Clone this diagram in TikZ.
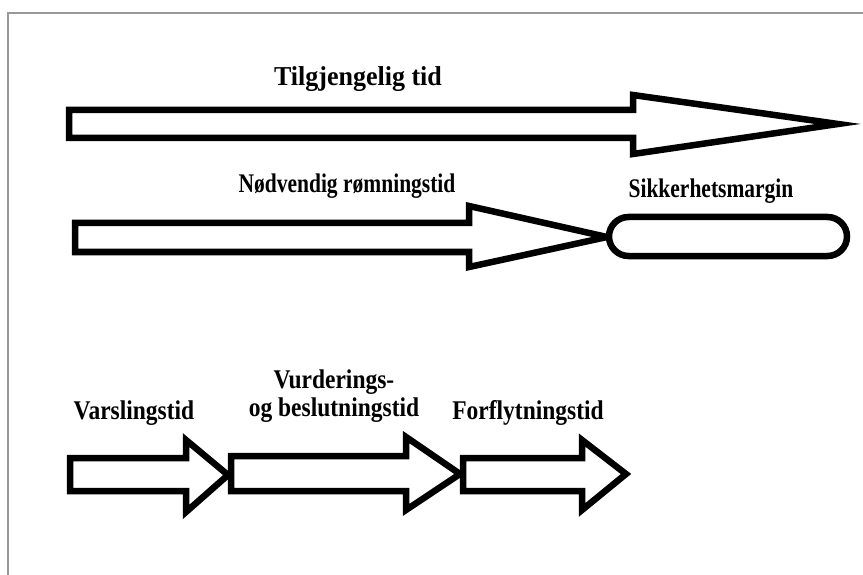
\documentclass[tikz,border=0pt]{standalone}
\usepackage{fontspec}
\setmainfont{Liberation Serif}
\begin{document}
\begin{tikzpicture}[x=1pt,y=-1pt,
  bigarrow/.style={draw=black,line width=6.5pt,fill=white,line join=miter,miter limit=20},
  stadium/.style={draw=black,line width=6.5pt,fill=white,rounded corners=19.5pt},
  lbl/.style={inner sep=0pt,align=center,transform shape},
  frame/.style={draw=black!40,line width=1.5pt}]
\useasboundingbox (0,0) rectangle (863,575);
\draw[frame] (8,575) -- (8,13) -- (863,13);
% arrow 1
\draw[bigarrow] (69,110) -- (633,110) -- (633,95) -- (838,124) -- (633,154) -- (633,138) -- (69,138) -- cycle;
% arrow 2
\draw[bigarrow] (75,223) -- (469,223) -- (469,206) -- (607,237) -- (469,267) -- (469,252) -- (75,252) -- cycle;
\draw[stadium] (609,217) rectangle (847,256);
% bottom row
\draw[bigarrow] (70,458) -- (186,458) -- (186,440) -- (228,475) -- (186,512) -- (186,491) -- (70,491) -- cycle;
\draw[bigarrow] (231,456) -- (406,456) -- (406,437) -- (460,474) -- (406,510) -- (406,491) -- (231,491) -- cycle;
\draw[bigarrow] (463,458) -- (582,458) -- (582,440) -- (626,474) -- (582,510) -- (582,491) -- (463,491) -- cycle;
% labels
\node[lbl,yscale=1.05,font=\fontsize{26}{28}\selectfont\bfseries] (t1) at (358,79) {Tilgjengelig tid};
\node[lbl,yscale=1.25,font=\fontsize{21.5}{24}\selectfont\bfseries] (t2) at (347,186) {Nødvendig rømningstid};
\node[lbl,yscale=1.25,font=\fontsize{21.5}{24}\selectfont\bfseries] (t3) at (711,191) {Sikkerhetsmargin};
\node[lbl,yscale=1.15,font=\fontsize{23.5}{26}\selectfont\bfseries] (t4) at (134,413) {Varslingstid};
\node[lbl,yscale=1.15,font=\fontsize{23.5}{24}\selectfont\bfseries] (t5) at (334,396) {Vurderings-\\og beslutningstid};
\node[lbl,yscale=1.15,font=\fontsize{23.5}{26}\selectfont\bfseries] (t6) at (528,413) {Forflytningstid};
\end{tikzpicture}
\end{document}
